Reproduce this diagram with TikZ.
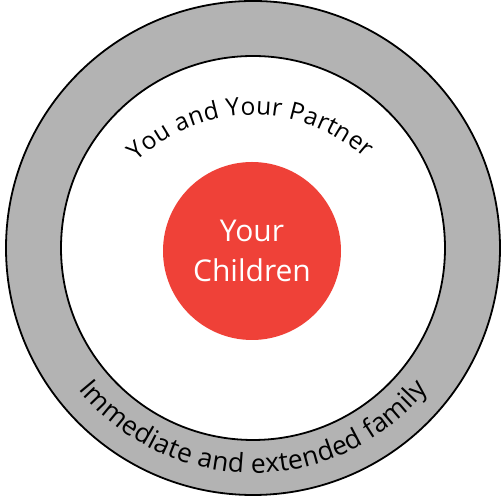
\documentclass[tikz,border=0pt]{standalone}
\usepackage{fontspec}
\setmainfont{Open Sans}
\usetikzlibrary{decorations.text}
\definecolor{ringgray}{HTML}{B3B3B3}
\definecolor{kidred}{HTML}{EF4138}
\tikzset{
  ring/.style={circle, draw=black, line width=1.8pt, inner sep=0pt},
  curvedtext/.style={decorate, decoration={text along path, text align=fit to path, text color=black, #1}}
}
\begin{document}
\begin{tikzpicture}[x=1pt,y=1pt]
\useasboundingbox (0,0) rectangle (504,497);
\coordinate (c) at (253,249);
\coordinate (ct) at (253,215);
\node[ring, fill=ringgray, minimum size=494pt] (outer) at (c) {};
\node[ring, fill=white, minimum size=384pt] (inner) at (c) {};
\node[circle, fill=kidred, minimum size=178pt, inner sep=0pt, text=white,
      align=center, font=\fontsize{30}{40}\selectfont] (kids) at (252,246) {Your\\Children};
\path[curvedtext={text={|\fontsize{24.5}{28}\selectfont|You and Your Partner}}]
  (ct) ++(134:167) arc[start angle=134, end angle=48, radius=167];
\path[curvedtext={text={|\fontsize{26.5}{30}\selectfont|Immediate and extended family}}]
  (c) ++(219:225) arc[start angle=219, end angle=321, radius=225];
\end{tikzpicture}
\end{document}
